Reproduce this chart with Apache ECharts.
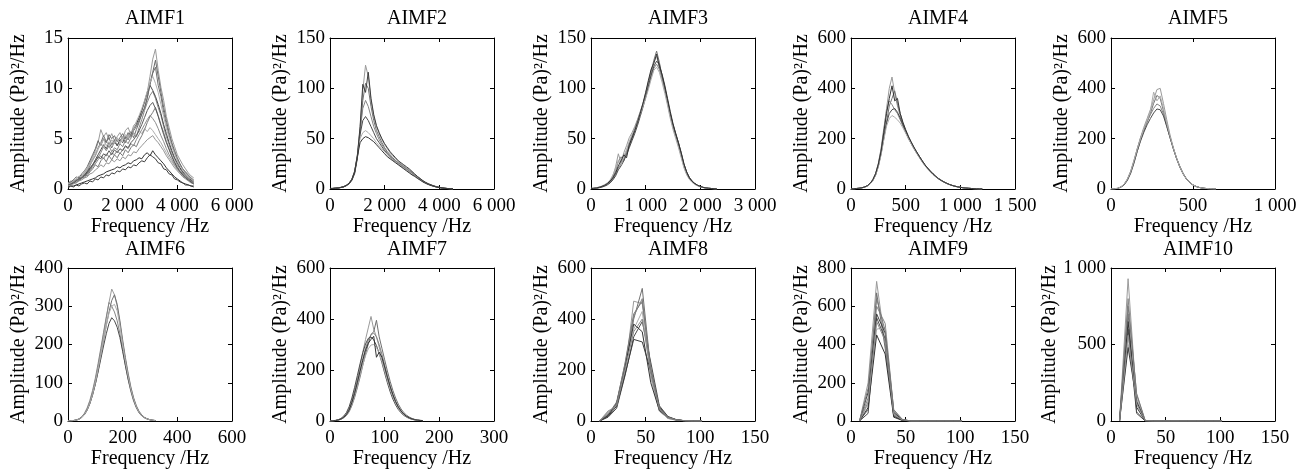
<!DOCTYPE html>
<html>
<head>
<meta charset="utf-8">
<script src="https://cdn.jsdelivr.net/npm/echarts@6/dist/echarts.min.js"></script>
<style>
html,body{margin:0;padding:0;background:#fff;}
#c{width:1306px;height:470px;}
</style>
</head>
<body>
<div id="c"></div>
<script>
// ---------------- DATA ----------------
const titles = ['AIMF1','AIMF2','AIMF3','AIMF4','AIMF5','AIMF6','AIMF7','AIMF8','AIMF9','AIMF10'];
const yName = 'Amplitude (Pa)\u00b2/Hz';
const xName = 'Frequency /Hz';

// axis ranges: [xMax, xInterval, yMax, yInterval]
const axisRanges = [
  [6000,2000,15,5],[6000,2000,150,50],[3000,1000,150,50],[1500,500,600,200],[1000,500,600,200],
  [600,200,400,100],[300,100,600,200],[150,50,600,200],[150,50,800,200],[150,50,1000,500]
];

// AIMF1
const freq1 = [0,100,200,300,400,500,600,700,800,900,1000,1100,1200,1300,1400,1500,1600,1700,1800,1900,2000,2100,2200,2300,2400,2500,2600,2700,2800,2900,3000,3100,3200,3300,3400,3500,3600,3700,3800,3900,4000,4100,4200,4300,4400,4500,4600];
const amp1 = [
 [0.6,0.8,0.7,1.0,1.2,1.1,1.6,2.0,2.6,3.2,3.8,4.6,5.9,5.2,5.6,4.9,5.5,4.8,5.2,5.6,5.0,5.8,6.1,5.4,6.3,6.6,7.0,7.8,8.6,9.6,11.2,12.9,13.9,11.8,10.1,8.8,7.2,6.1,5.0,4.2,3.4,2.9,2.4,2.0,1.6,1.3,1.1],
 [0.4,0.6,0.9,0.8,1.1,1.4,1.3,1.8,2.3,2.9,3.3,4.1,4.6,5.3,4.7,5.1,4.4,4.9,4.3,4.8,5.2,4.6,5.3,5.7,5.1,5.9,6.6,7.5,8.0,9.1,10.4,11.5,12.1,10.3,9.2,7.6,6.4,5.3,4.4,3.6,2.9,2.4,1.9,1.6,1.3,1.0,0.8],
 [0.3,0.5,0.6,0.8,0.9,1.0,1.3,1.5,1.9,2.3,2.8,3.1,3.6,4.2,3.8,4.3,3.7,4.1,3.9,4.5,4.2,4.8,4.5,5.1,5.6,5.2,6.1,6.9,7.8,8.6,9.3,9.7,9.0,8.1,7.3,6.2,5.2,4.4,3.6,3.0,2.4,2.0,1.6,1.3,1.0,0.8,0.6],
 [0.5,0.4,0.7,0.9,0.8,1.2,1.4,1.7,2.1,2.4,2.9,3.4,3.9,4.4,4.0,4.6,4.1,4.7,4.3,4.9,4.6,5.2,4.9,5.5,6.0,6.4,7.1,7.8,8.7,9.6,10.3,9.8,9.2,8.4,7.5,6.4,5.5,4.6,3.8,3.1,2.6,2.1,1.7,1.4,1.1,0.9,0.7],
 [0.4,0.6,0.8,0.7,1.0,1.3,1.5,1.9,2.4,2.8,3.3,3.9,4.6,4.1,4.8,4.3,4.9,4.5,5.0,4.6,5.2,4.8,5.3,5.0,5.5,5.2,5.8,5.5,6.0,5.7,6.1,5.8,5.4,5.0,4.6,4.1,3.6,3.1,2.7,2.3,1.9,1.6,1.3,1.1,0.9,0.7,0.6],
 [0.2,0.3,0.3,0.4,0.5,0.6,0.7,0.8,0.9,1.0,1.1,1.3,1.4,1.5,1.7,1.8,1.9,2.0,2.2,2.1,2.3,2.4,2.6,2.5,2.8,2.9,3.1,3.0,3.4,3.6,3.3,3.8,3.4,3.1,2.8,2.5,2.1,1.8,1.5,1.2,1.0,0.8,0.6,0.5,0.4,0.3,0.3],
 [0.1,0.3,0.2,0.4,0.3,0.5,0.6,0.5,0.8,0.7,1.0,0.9,1.2,1.1,1.4,1.3,1.6,1.5,1.8,1.7,2.0,1.9,2.2,2.1,2.4,2.3,2.6,2.8,2.7,3.1,3.4,3.2,3.0,2.6,2.5,2.0,1.9,1.5,1.4,1.0,0.9,0.7,0.6,0.4,0.4,0.3,0.2],
 [0.5,0.7,0.6,0.9,1.0,1.2,1.1,1.5,1.8,2.2,2.5,2.9,3.3,3.0,3.5,3.2,3.6,3.4,3.8,3.5,3.9,4.2,4.0,4.5,4.3,4.9,5.4,5.9,6.4,6.9,7.3,7.0,6.6,6.0,5.3,4.7,4.0,3.4,2.9,2.4,2.0,1.7,1.4,1.1,0.9,0.7,0.5],
 [0.3,0.5,0.7,0.6,0.9,1.1,1.4,1.3,1.7,2.0,2.4,2.2,2.8,3.1,2.7,3.3,2.9,3.4,3.1,3.6,3.3,3.9,3.6,4.1,4.4,4.2,4.8,5.3,5.9,6.6,7.2,7.6,8.1,7.3,6.4,5.6,4.7,4.0,3.3,2.7,2.2,1.8,1.5,1.2,1.0,0.8,0.6],
 [0.3,0.4,0.5,0.6,0.8,0.9,1.1,1.2,1.5,1.6,1.9,2.1,2.4,2.2,2.6,2.5,2.9,2.7,3.0,2.8,3.2,3.0,3.4,3.3,3.7,3.6,4.0,4.3,4.6,4.9,5.1,5.3,4.9,4.6,4.2,3.8,3.3,2.9,2.5,2.1,1.8,1.5,1.2,1.0,0.8,0.6,0.5],
 [0.6,0.7,0.9,1.2,1.1,1.5,1.8,2.2,2.8,3.4,4.0,4.8,4.3,5.0,4.6,5.4,5.0,5.3,4.7,5.1,5.5,5.0,5.6,5.2,5.8,6.2,6.8,7.4,8.1,9.0,10.4,11.6,12.8,11.2,9.6,8.1,6.8,5.6,4.6,3.8,3.1,2.5,2.0,1.7,1.4,1.1,0.9],
 [0.5,0.6,0.8,1.0,1.3,1.2,1.7,2.1,2.5,3.0,3.6,4.0,4.4,4.9,4.3,4.7,4.2,4.6,5.1,4.5,4.9,5.4,5.0,5.6,6.0,6.7,7.3,8.0,8.8,9.7,10.6,11.2,10.5,9.6,8.4,7.2,6.0,5.1,4.2,3.5,2.8,2.3,1.9,1.5,1.2,1.0,0.8],
 [0.4,0.5,0.6,0.8,1.0,1.1,1.3,1.6,2.0,2.4,2.7,3.2,3.0,3.5,3.3,3.8,3.4,3.9,3.6,4.0,3.8,4.3,4.1,4.6,4.9,5.3,5.8,6.4,7.1,7.8,8.3,8.6,8.0,7.2,6.3,5.4,4.6,3.9,3.2,2.6,2.1,1.7,1.4,1.1,0.9,0.7,0.5]
];

// AIMF2
const freq2 = [0,100,200,300,400,500,600,700,800,900,1000,1100,1200,1300,1400,1500,1600,1700,1800,1900,2000,2100,2200,2300,2400,2500,2600,2700,2800,2900,3000,3100,3200,3300,3400,3500,3600,3700,3800,3900,4000,4100,4200,4300,4400,4500];
const amp2 = [
 [0.5,0.6,0.8,1.0,1.5,2.2,3.5,5.5,9,16,32,60,98,123,112,88,72,62,55,49,44,40,36,33,30,27,25,23,21,19,17,14,12,10,8,6.5,5,4,3,2.2,1.6,1.1,0.8,0.5,0.3,0.2],
 [0.4,0.5,0.7,0.9,1.4,2.0,3.2,5.0,8.5,15,30,55,88,105,100,82,68,58,52,46,41,37,34,31,28,26,24,22,20,18,16,13.5,11.5,9.5,7.5,6,4.8,3.8,2.8,2.0,1.5,1.0,0.7,0.5,0.3,0.2],
 [0.5,0.6,0.8,1.1,1.6,2.3,3.6,5.6,9.5,17,33,58,80,88,82,72,62,55,49,44,40,36,33,30,28,26,24,22,20,18,16,14,12,10,8,6.2,5,3.9,2.9,2.1,1.5,1.0,0.7,0.5,0.3,0.2],
 [0.4,0.5,0.7,1.0,1.5,2.1,3.4,5.3,9,16,31,54,68,72,68,62,56,50,46,42,38,35,32,29,27,25,23,21,19,17,15,13,11,9.5,7.6,6,4.8,3.7,2.8,2.0,1.4,1.0,0.7,0.4,0.3,0.2],
 [0.5,0.6,0.9,1.2,1.7,2.4,3.8,6,10,18,34,50,56,58,56,53,50,46,43,40,37,34,31,29,27,25,23,21,19,17,15,13,11,9,7.2,5.8,4.6,3.6,2.7,2.0,1.4,0.9,0.6,0.4,0.3,0.2],
 [0.4,0.5,0.8,1.1,1.6,2.3,3.7,5.8,9.6,17,32,46,50,52,51,49,47,44,41,38,35,32,30,28,26,24,22,20,18,16,14,12.5,10.5,8.8,7,5.6,4.4,3.4,2.6,1.9,1.3,0.9,0.6,0.4,0.3,0.2],
 [0.5,0.6,0.9,1.1,1.6,2.3,3.6,5.7,9.3,17,33,62,104,96,116,90,74,63,56,50,45,41,37,34,31,28,26,24,22,20,17.5,15,12.5,10.5,8.3,6.6,5.2,4.1,3.1,2.3,1.7,1.2,0.8,0.5,0.3,0.2]
];

// AIMF3
const freq3 = [0,50,100,150,200,250,300,350,400,450,500,550,600,650,700,750,800,850,900,950,1000,1050,1100,1150,1200,1250,1300,1350,1400,1450,1500,1550,1600,1650,1700,1750,1800,1850,1900,1950,2000,2050,2100,2150,2200,2250,2300];
const amp3 = [
 [0.5,0.7,1.0,1.6,2.5,3.6,5.2,8,13,22,35,26,36,43,51,56,62,69,77,85,93,103,114,126,132,120,109,99,86,73,62,53,44,33,22,15,10,7,5,3.4,2.2,1.5,1,0.7,0.5,0.3,0.2],
 [0.4,0.6,0.9,1.4,2.2,3.2,4.6,7,10,15,21,25,30,36,43,50,57,65,74,84,95,106,117,128,137,126,112,100,87,74,63,54,45,35,24,16,11,7.5,5.2,3.6,2.4,1.6,1.1,0.7,0.5,0.3,0.2],
 [0.5,0.8,1.2,1.8,2.7,3.9,5.8,8.5,12,18,27,32,28,38,46,53,60,68,76,84,92,101,111,120,124,119,110,98,85,72,61,52,43,33,23,16,11,7.5,5,3.5,2.3,1.5,1,0.7,0.5,0.3,0.2],
 [0.3,0.5,0.8,1.2,1.9,2.8,4.1,6,9,13,19,23,28,34,41,48,55,63,72,81,91,102,113,122,127,124,113,101,88,75,64,55,46,36,25,17,11.5,8,5.5,3.8,2.5,1.7,1.1,0.8,0.5,0.3,0.2],
 [0.6,0.9,1.3,2,3,4.3,6.2,9,14,20,29,24,33,39,47,54,58,66,74,82,90,99,109,118,121,116,106,95,83,70,59,50,41,31,21,14,9.5,6.5,4.5,3.1,2.1,1.4,0.9,0.6,0.4,0.3,0.2],
 [0.4,0.7,1.1,1.7,2.6,3.7,5.4,8,11,16,23,28,34,31,44,51,58,66,75,85,96,108,119,125,134,122,114,103,90,77,65,55,46,36,25,17,11,7.6,5.3,3.7,2.5,1.6,1.1,0.7,0.5,0.3,0.2]
];

// AIMF4
const freq4 = [0,25,50,75,100,125,150,175,200,225,250,275,300,325,350,375,400,425,450,475,500,525,550,575,600,625,650,675,700,725,750,775,800,825,850,875,900,925,950,975,1000,1025,1050,1075,1100,1125,1150,1175,1200];
const amp4 = [
 [0.5,1,2,3,5,8,13,22,37,60,100,155,230,320,400,445,380,330,290,255,225,200,180,160,142,125,108,93,80,68,57,48,40,33,27,22,17.5,14,11,8.5,6.5,5,3.8,2.8,2,1.4,1,0.7,0.5],
 [0.4,0.9,1.8,2.8,4.6,7.5,12,20,34,55,90,140,200,265,330,360,390,340,300,262,232,205,182,162,144,127,110,95,82,70,59,49,41,34,28,22.5,18,14,11,8.6,6.6,5,3.8,2.8,2,1.4,1,0.7,0.5],
 [0.6,1.1,2.1,3.2,5.2,8.3,13.5,23,38,62,102,160,240,310,350,335,315,300,275,250,226,203,183,164,146,129,112,96,83,71,60,50,42,35,28,23,18,14.5,11.3,8.8,6.8,5.2,3.9,2.9,2.1,1.5,1,0.7,0.5],
 [0.5,1,1.9,2.9,4.8,7.7,12.5,21,35,57,92,142,205,262,300,315,320,305,282,255,230,206,185,165,147,130,113,97,84,72,61,51,42,35,28.5,23,18.5,14.5,11.4,8.8,6.8,5.2,3.9,2.9,2.1,1.5,1,0.7,0.5],
 [0.4,0.9,1.8,2.8,4.5,7.3,11.8,20,33,54,88,135,195,250,280,292,285,275,262,243,222,200,180,161,143,126,110,94,81,69,58,49,41,34,27.5,22,17.5,14,11,8.5,6.5,5,3.7,2.7,1.9,1.3,0.9,0.6,0.4],
 [0.5,1,2,3.1,5,8.1,13.2,22.5,37,61,98,150,225,300,360,410,350,360,300,265,236,210,188,167,148,130,113,97,83,71,60,50,41,34,28,22.5,18,14.2,11.1,8.6,6.6,5,3.8,2.8,2,1.4,1,0.7,0.5]
];

// AIMF5
const freq5 = [0,20,40,60,80,100,120,140,160,180,200,220,240,260,280,300,320,340,360,380,400,420,440,460,480,500,520,540,560,580,600,620,640];
const amp5 = [
 [0.5,1,2.5,8,18,38,68,110,160,205,245,280,315,355,395,400,340,275,215,165,122,88,60,40,26,16,10,6,3.5,2,1.2,0.7,0.4],
 [0.4,0.9,2.2,7,16,34,62,102,150,195,232,265,300,340,372,360,310,255,205,160,120,86,59,39,25,15.5,9.5,5.8,3.3,1.9,1.1,0.6,0.4],
 [0.5,1.1,2.8,8.5,19,40,71,114,160,202,238,268,295,320,338,330,298,250,205,162,123,90,62,41,27,16.5,10,6,3.5,2,1.2,0.7,0.4],
 [0.4,1,2.4,7.5,17,36,65,105,150,190,225,255,280,302,318,315,290,248,204,160,121,88,61,40,26,16,9.8,5.9,3.4,2,1.2,0.7,0.4],
 [0.5,1,2.6,8.2,18.5,39,69,112,158,200,240,272,310,385,350,370,320,262,210,163,122,88,60,40,26,16,10,6,3.5,2,1.2,0.7,0.4]
];

// AIMF6
const freq6 = [0,10,20,30,40,50,60,70,80,90,100,110,120,130,140,150,160,170,180,190,200,210,220,230,240,250,260,270,280,290,300,310,320];
const amp6 = [
 [0.3,0.6,1.2,2.5,5,10,18,31,50,75,106,143,184,226,268,310,345,330,300,255,205,160,120,85,58,38,24,15,9,5.5,3.3,2,1.2],
 [0.3,0.5,1,2.2,4.5,9,16,28,45,68,97,131,170,210,250,285,315,330,305,262,212,166,125,89,61,40,25,16,9.5,5.8,3.5,2.1,1.3],
 [0.4,0.7,1.4,2.8,5.6,11,20,34,54,80,112,150,190,232,272,310,300,285,262,228,186,145,108,77,52,34,21,13,8,4.8,2.9,1.7,1],
 [0.3,0.6,1.2,2.4,4.8,9.5,17,29,46,69,96,128,162,196,228,255,270,262,245,218,182,145,110,80,55,36,23,14.5,8.8,5.3,3.2,1.9,1.1],
 [0.3,0.6,1.1,2.3,4.7,9.4,17,29,47,70,100,135,172,212,250,282,300,305,288,248,200,156,117,83,57,37,23,14.5,8.8,5.3,3.2,1.9,1.1]
];

// AIMF7
const freq7 = [0,5,10,15,20,25,30,35,40,45,50,55,60,65,70,75,80,85,90,95,100,105,110,115,120,125,130,135,140,145,150,155,160,165,170];
const amp7 = [
 [0.3,0.8,2,4.2,8.5,16,28,48,80,120,165,215,270,320,365,410,360,330,290,248,205,165,128,97,72,52,37,26,18,12,8,5,3.2,2,1.3],
 [0.2,0.6,1.5,3.2,6.5,12,21,36,60,92,130,172,218,262,302,340,350,395,330,285,240,196,156,120,90,66,47,33,23,15.5,10,6.5,4.2,2.7,1.7],
 [0.3,0.8,2,4,8,15,26,45,75,112,155,200,245,285,318,338,345,330,300,262,220,178,140,106,78,56,40,28,19,13,8.5,5.5,3.5,2.2,1.4],
 [0.4,1,2.5,5,10,19,33,56,90,132,178,225,268,302,324,330,318,296,265,228,188,150,115,86,63,45,32,22,15,10,6.5,4.2,2.7,1.7,1.1],
 [0.3,0.7,1.8,3.6,7.2,13.5,23.5,40,66,99,138,180,220,256,283,298,300,288,265,233,196,159,125,95,70,50,35,24.5,16.5,11,7.2,4.6,3,1.9,1.2],
 [0.3,0.7,1.8,3.8,7.5,14,25,43,72,108,150,195,238,278,305,320,332,250,270,250,212,172,135,103,76,55,39,27,18.5,12.5,8.2,5.3,3.4,2.2,1.4]
];

// AIMF8 - AIMF10 (coarse spectral bins)
const freqLow = [7.81,15.63,23.44,31.25,39.06,46.88,54.69,62.5,70.31,78.13,85.94,93.75,101.56];
const amp8 = [
 [0,40,55,190,470,460,210,50,15,4,1,0,0],
 [0,20,65,210,400,520,200,45,12,4,1,0,0],
 [0,25,75,225,410,480,180,40,10,3,1,0,0],
 [0,15,50,180,330,390,230,60,18,5,1,0,0],
 [0,30,60,200,360,430,170,38,11,3,1,0,0],
 [0,22,70,215,380,350,150,42,14,4,1,0,0],
 [0,18,58,185,320,310,195,55,16,5,1,0,0],
 [0,35,62,205,350,400,190,48,13,4,1,0,0],
 [0,28,68,230,420,470,205,52,15,4,1,0,0]
];
const amp9 = [
 [0,200,730,400,40,5,0,0,0,0,0,0,0],
 [0,60,670,380,30,5,0,0,0,0,0,0,0],
 [0,120,600,510,55,8,0,0,0,0,0,0,0],
 [0,40,540,430,25,4,0,0,0,0,0,0,0],
 [0,90,480,490,50,6,0,0,0,0,0,0,0],
 [0,70,450,350,20,3,0,0,0,0,0,0,0],
 [0,150,560,460,45,7,0,0,0,0,0,0,0],
 [0,100,520,420,35,6,0,0,0,0,0,0,0],
 [0,170,640,470,60,9,0,0,0,0,0,0,0]
];
const amp10 = [
 [0,930,120,2,0,0,0,0,0,0,0,0,0],
 [0,700,60,1,0,0,0,0,0,0,0,0,0],
 [0,800,170,3,0,0,0,0,0,0,0,0,0],
 [0,600,50,1,0,0,0,0,0,0,0,0,0],
 [0,500,150,2,0,0,0,0,0,0,0,0,0],
 [0,650,90,1,0,0,0,0,0,0,0,0,0],
 [0,480,130,2,0,0,0,0,0,0,0,0,0],
 [0,560,110,2,0,0,0,0,0,0,0,0,0],
 [0,750,180,4,0,0,0,0,0,0,0,0,0]
];

const panelFreq = [freq1,freq2,freq3,freq4,freq5,freq6,freq7,freqLow,freqLow,freqLow];
const panelAmp = [amp1,amp2,amp3,amp4,amp5,amp6,amp7,amp8,amp9,amp10];

// ---------------- STYLE / LAYOUT ----------------
const grays = ['#9a9a9a','#707070','#858585','#4a4a4a','#acacac','#333333','#3d3d3d','#8c8c8c','#7a7a7a','#959595','#6a6a6a','#b0b0b0','#5a5a5a'];
const colLefts = [68,330,591,851,1111];
const rowTops = [38,268];
const rowHeights = [151,153];
const titleTops = [4,235];
const plotW = 164;
const yNameGaps = [39,39,39,39,39,39,39,39,39,49];
const FONT = 'Liberation Serif';

function fmt(v){
  return String(v).replace(/\B(?=(\d{3})+(?!\d))/g,' ');
}

const grid=[], xAxis=[], yAxis=[], series=[], title=[];
for (let i=0;i<10;i++){
  const r = Math.floor(i/5), c = i%5;
  const [xMax,xInt,yMax,yInt] = axisRanges[i];
  grid.push({left:colLefts[c], top:rowTops[r], width:plotW, height:rowHeights[r], containLabel:false});
  title.push({text:titles[i], left:colLefts[c]+plotW/2, top:titleTops[r], textAlign:'center',
    textStyle:{fontFamily:FONT,fontSize:20,fontWeight:'normal',color:'#000'}});
  const lineStyle = {color:'#000',width:1};
  const tickCommon = {show:true,inside:true,length:4,lineStyle:{color:'#000',width:1}};
  xAxis.push({gridIndex:i,type:'value',min:0,max:xMax,interval:xInt,position:'bottom',
    axisLine:{show:true,onZero:false,lineStyle},axisTick:tickCommon,splitLine:{show:false},
    axisLabel:{fontFamily:FONT,fontSize:19,color:'#000',margin:8,formatter:fmt,showMaxLabel:true,showMinLabel:true},
    name:xName,nameLocation:'middle',nameGap:27,nameTextStyle:{fontFamily:FONT,fontSize:20,color:'#000'}});
  xAxis.push({gridIndex:i,type:'value',min:0,max:xMax,interval:xInt,position:'top',
    axisLine:{show:true,onZero:false,lineStyle},axisTick:tickCommon,splitLine:{show:false},axisLabel:{show:false}});
  yAxis.push({gridIndex:i,type:'value',min:0,max:yMax,interval:yInt,position:'left',
    axisLine:{show:true,onZero:false,lineStyle},axisTick:tickCommon,splitLine:{show:false},
    axisLabel:{fontFamily:FONT,fontSize:19,color:'#000',margin:5,formatter:fmt},
    name:yName,nameLocation:'middle',nameGap:yNameGaps[i],nameTextStyle:{fontFamily:FONT,fontSize:20,color:'#000'}});
  yAxis.push({gridIndex:i,type:'value',min:0,max:yMax,interval:yInt,position:'right',
    axisLine:{show:true,onZero:false,lineStyle},axisTick:tickCommon,splitLine:{show:false},axisLabel:{show:false}});
  const fr = panelFreq[i];
  panelAmp[i].forEach((amp,k)=>{
    const data = [];
    const n = Math.min(fr.length, amp.length);
    for (let j=0;j<n;j++) data.push([fr[j], amp[j]]);
    series.push({type:'line',xAxisIndex:2*i,yAxisIndex:2*i,data,showSymbol:false,symbol:'none',
      lineStyle:{color:grays[k%grays.length],width:1},silent:true,animation:false,clip:true});
  });
}

const chart = echarts.init(document.getElementById('c'),null,{renderer:'canvas'});
chart.setOption({backgroundColor:'#fff',animation:false,title,grid,xAxis,yAxis,series});
</script>
</body>
</html>
